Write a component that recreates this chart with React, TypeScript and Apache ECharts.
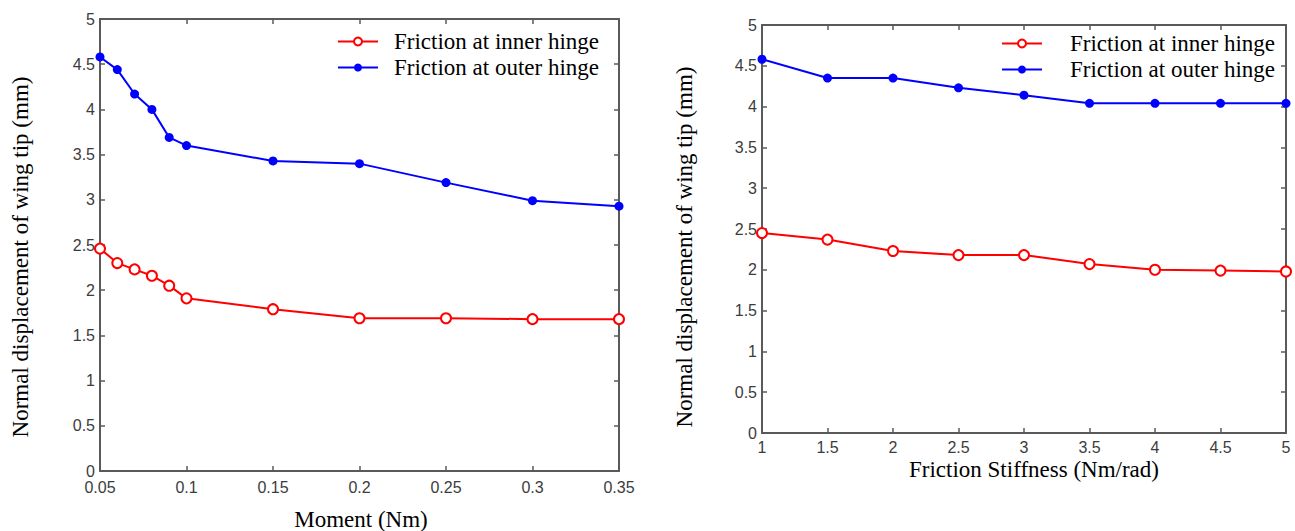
import React, { useEffect, useRef } from "react";
import * as echarts from "echarts";

// Moment sweep (left panel)
const momentX = [0.05, 0.06, 0.07, 0.08, 0.09, 0.1, 0.15, 0.2, 0.25, 0.3, 0.35];
const momentInner = [2.46, 2.3, 2.23, 2.16, 2.05, 1.91, 1.79, 1.69, 1.69, 1.68, 1.68];
const momentOuter = [4.58, 4.44, 4.17, 4.0, 3.69, 3.6, 3.43, 3.4, 3.19, 2.99, 2.93];

// Friction stiffness sweep (right panel)
const stiffX = [1, 1.5, 2, 2.5, 3, 3.5, 4, 4.5, 5];
const stiffInner = [2.45, 2.37, 2.23, 2.18, 2.18, 2.07, 2.0, 1.99, 1.98];
const stiffOuter = [4.58, 4.35, 4.35, 4.23, 4.14, 4.04, 4.04, 4.04, 4.04];

const seriesNames = ["Friction at inner hinge", "Friction at outer hinge"];
const yTitle = "Normal displacement of wing tip (mm)";
const xTitles = ["Moment (Nm)", "Friction Stiffness (Nm/rad)"];

const SERIF = "Liberation Serif";
const SANS = "Liberation Sans";
const AXIS_COLOR = "#5a5a5a";
const SERIF_SIZE = 23;

const pairs = (xs: number[], ys: number[]) => xs.map((x, i) => [x, ys[i]]);

function axisPair(
  kind: "x" | "y",
  gridIndex: number,
  min: number,
  max: number,
  interval: number,
  labelMargin: number
) {
  const common = {
    type: "value",
    gridIndex,
    min,
    max,
    interval,
    splitLine: { show: false },
    axisLine: { show: true, onZero: false, lineStyle: { color: AXIS_COLOR, width: 2 } },
    axisTick: { show: true, inside: true, length: 5, lineStyle: { color: AXIS_COLOR, width: 1.5 } },
  };
  const main = {
    ...common,
    position: kind === "x" ? "bottom" : "left",
    axisLabel: {
      show: true,
      color: "#3c3c3c",
      fontFamily: SANS,
      fontSize: 16,
      margin: labelMargin,
      showMinLabel: true,
      showMaxLabel: true,
    },
  };
  const mirror = {
    ...common,
    position: kind === "x" ? "top" : "right",
    axisLabel: { show: false },
  };
  return [main, mirror];
}

export default function App() {
  const ref = useRef<HTMLDivElement>(null);

  useEffect(() => {
    if (!ref.current) return;
    const chart = echarts.init(ref.current, undefined, { renderer: "svg" });

    const inner = {
      type: "line",
      name: seriesNames[0],
      symbol: "emptyCircle",
      symbolSize: 10,
      color: "#ff0000",
      lineStyle: { color: "#ff0000", width: 2 },
      itemStyle: { color: "#ff0000", borderColor: "#ff0000", borderWidth: 1.8 },
    };
    const outer = {
      type: "line",
      name: seriesNames[1],
      symbol: "circle",
      symbolSize: 9,
      color: "#0000ff",
      lineStyle: { color: "#0000ff", width: 2 },
      itemStyle: { color: "#0000ff" },
    };

    const legendBase = {
      orient: "vertical",
      itemWidth: 40,
      itemHeight: 10,
      itemGap: 3,
      data: seriesNames,
      selectedMode: false,
    };

    const titleText = (text: string, x: number, y: number, vertical: boolean) => ({
      type: "text",
      x,
      y,
      rotation: vertical ? Math.PI / 2 : 0,
      style: {
        text,
        fill: "#000",
        fontFamily: SERIF,
        fontSize: SERIF_SIZE,
        align: "center",
        verticalAlign: "middle",
      },
    });

    const [x0, x0top] = axisPair("x", 0, 0.05, 0.35, 0.05, 8);
    const [y0, y0right] = axisPair("y", 0, 0, 5, 0.5, 5);
    const [x1, x1top] = axisPair("x", 1, 1, 5, 0.5, 6);
    const [y1, y1right] = axisPair("y", 1, 0, 5, 0.5, 5);

    chart.setOption({
      animation: false,
      backgroundColor: "#ffffff",
      grid: [
        { left: 100, top: 19, width: 519, height: 452 },
        { left: 762, top: 25, width: 524, height: 408 },
      ],
      xAxis: [x0, x0top, x1, x1top],
      yAxis: [y0, y0right, y1, y1right],
      legend: [
        {
          ...legendBase,
          left: 332,
          top: 25,
          textStyle: { fontFamily: SERIF, fontSize: SERIF_SIZE, color: "#000", padding: [0, 0, 0, 11] },
        },
        {
          ...legendBase,
          left: 996,
          top: 27,
          textStyle: { fontFamily: SERIF, fontSize: SERIF_SIZE, color: "#000", padding: [0, 0, 0, 23] },
        },
      ],
      series: [
        { ...inner, xAxisIndex: 0, yAxisIndex: 0, data: pairs(momentX, momentInner) },
        { ...outer, xAxisIndex: 0, yAxisIndex: 0, data: pairs(momentX, momentOuter) },
        { ...inner, xAxisIndex: 2, yAxisIndex: 2, data: pairs(stiffX, stiffInner) },
        { ...outer, xAxisIndex: 2, yAxisIndex: 2, data: pairs(stiffX, stiffOuter) },
      ],
      graphic: [
        titleText(yTitle, 20, 257, true),
        titleText(xTitles[0], 361, 519, false),
        titleText(yTitle, 684, 247, true),
        titleText(xTitles[1], 1034, 469, false),
      ],
    });

    return () => chart.dispose();
  }, []);

  return (
    <div
      ref={ref}
      style={{ position: "absolute", left: 0, top: 0, width: 1295, height: 531, background: "#fff" }}
    />
  );
}
